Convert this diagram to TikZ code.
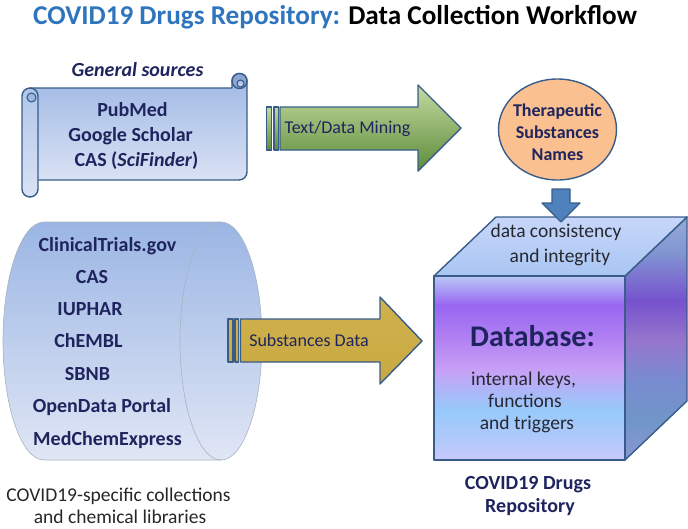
\documentclass[tikz,border=0pt]{standalone}
\usepackage{fontspec}
\setmainfont{Carlito}
\definecolor{navy}{RGB}{31,36,94}
\definecolor{darktxt}{RGB}{40,40,50}
\definecolor{edge}{RGB}{56,93,138}
\definecolor{titleblue}{RGB}{46,117,190}
\definecolor{scrolltop}{RGB}{158,184,228}
\definecolor{scrollbot}{RGB}{218,226,244}
\definecolor{curlfill}{RGB}{140,165,210}
\definecolor{cyltop}{RGB}{155,182,228}
\definecolor{cylbot}{RGB}{224,230,245}
\definecolor{cylline}{RGB}{170,178,192}
\definecolor{greentop}{RGB}{196,218,160}
\definecolor{greenbot}{RGB}{92,140,58}
\definecolor{goldtop}{RGB}{208,178,78}
\definecolor{goldmid}{RGB}{242,226,146}
\definecolor{goldbot}{RGB}{200,168,64}
\definecolor{orangefill}{RGB}{250,192,143}
\definecolor{arrowblue}{RGB}{79,129,189}
\definecolor{toptopc}{RGB}{200,214,250}
\definecolor{topbotc}{RGB}{168,198,242}
% cube front colours
\definecolor{cfa}{RGB}{200,202,250}
\definecolor{cfb}{RGB}{178,200,250}
\definecolor{cfc}{RGB}{150,202,250}
\definecolor{cfd}{RGB}{200,160,246}
\definecolor{cfe}{RGB}{178,130,242}
\definecolor{cff}{RGB}{152,102,242}
\definecolor{cfg}{RGB}{185,200,246}
% cube right colours
\definecolor{cra}{RGB}{140,150,210}
\definecolor{crb}{RGB}{112,150,200}
\definecolor{crc}{RGB}{120,140,208}
\definecolor{crd}{RGB}{150,118,205}
\definecolor{cre}{RGB}{118,82,205}
\definecolor{crf}{RGB}{130,150,210}
\definecolor{crg}{RGB}{150,170,215}
\pgfdeclareverticalshading{cubefront}{100bp}{color(0bp)=(cfa); color(25bp)=(cfa); color(30.4bp)=(cfb); color(38.6bp)=(cfc); color(49.5bp)=(cfd); color(57.6bp)=(cfe); color(67.1bp)=(cff); color(75bp)=(cfg); color(100bp)=(cfg)}
\pgfdeclareverticalshading{cuberight}{100bp}{color(0bp)=(cra); color(25bp)=(cra); color(33.2bp)=(crb); color(41.3bp)=(crc); color(49.5bp)=(crd); color(57.7bp)=(cre); color(67.9bp)=(crf); color(75bp)=(crg); color(100bp)=(crg)}
\begin{document}
\begin{tikzpicture}[x=1pt,y=-1pt,
  edgeline/.style={draw=edge, line width=1.4pt, line join=round},
  lbl/.style={anchor=base, inner sep=0pt},
  bftwenty/.style={font=\fontsize{20}{24}\selectfont\bfseries, text=navy},
  rgeighteen/.style={font=\fontsize{18}{22}\selectfont, text=navy},
  bfeighteen/.style={font=\fontsize{18}{22}\selectfont\bfseries, text=navy},
  rgtwenty/.style={font=\fontsize{19.5}{23}\selectfont, text=darktxt}]
\useasboundingbox (0,0) rectangle (688,528);

% title
\node[anchor=base west, inner sep=0pt, font=\fontsize{27.2}{32}\selectfont\bfseries] (title) at (33,24)
  {\textcolor{titleblue}{COVID19 Drugs Repository:} Data Collection Workflow};

% ---------- scroll ----------
\node[lbl, font=\fontsize{20}{24}\selectfont\bfseries\itshape, text=navy] (gen) at (137.5,76) {General sources};
\path[edgeline, top color=scrolltop, bottom color=scrollbot]
  (30,88) -- (232,88) -- (232,81) arc[start angle=180, end angle=360, radius=7.5]
  -- (247,172) arc[start angle=0, end angle=90, radius=8] -- (30,180) -- cycle;
\path[edgeline, fill=curlfill] (239.5,81) circle[radius=7.5];
\path[draw=edge, line width=1.1pt, top color=scrolltop, bottom color=scrollbot] (240.5,83.5) circle[radius=3.5];
\path[edgeline, top color=scrolltop!80!white, bottom color=scrollbot, rounded corners=8pt] (22,88) rectangle (38,197);
\path[draw=edge, line width=1.1pt, fill=scrolltop] (31.5,97.5) circle[radius=4.5];
\node[lbl, bftwenty] (pub) at (132.5,116) {PubMed};
\node[lbl, bftwenty] (gs) at (130.5,141.5) {Google Scholar};
\node[lbl, bftwenty] (cas1) at (136.5,166.5) {CAS (\textit{SciFinder})};

% ---------- green arrow ----------
\path[edgeline, top color=greentop, bottom color=greenbot]
  (280,107) -- (418,107) -- (418,85) -- (461,128) -- (418,171) -- (418,150) -- (280,150) -- cycle;
\path[edgeline, top color=greentop, bottom color=greenbot] (266.5,107) rectangle (271.5,150);
\path[edgeline, top color=greentop, bottom color=greenbot] (274,107) rectangle (278.5,150);
\node[lbl, rgeighteen] (mining) at (347.5,133.5) {Text/Data Mining};

% ---------- orange ellipse ----------
\path[edgeline, fill=orangefill] (557.5,129.5) ellipse[x radius=59, y radius=50.5];
\node[lbl, bfeighteen] (th1) at (557.5,116.5) {Therapeutic};
\node[lbl, bfeighteen] (th2) at (557.5,138.5) {Substances};
\node[lbl, bfeighteen] (th3) at (557.5,160) {Names};

% ---------- cube ----------
\path[edgeline, shade, shading=cuberight] (625,276) -- (687,217) -- (687,401) -- (625,460) -- cycle;
\path[edgeline, top color=toptopc, bottom color=topbotc] (434,276) -- (496,217) -- (687,217) -- (625,276) -- cycle;
\path[edgeline, shade, shading=cubefront] (434,276) rectangle (625,460);
\node[lbl, rgtwenty] (dc1) at (556,237.5) {data consistency};
\node[lbl, rgtwenty] (dc2) at (560,262.5) {and integrity};
\node[lbl, font=\fontsize{30}{36}\selectfont\bfseries, text=navy] (db) at (532.5,346.5) {Database:};
\node[lbl, rgtwenty] (ik) at (523.5,385) {internal keys,};
\node[lbl, rgtwenty] (fn) at (525,407) {functions};
\node[lbl, rgtwenty] (tr) at (527,429.5) {and triggers};
\node[lbl, bftwenty] (rep1) at (528,489.5) {COVID19 Drugs};
\node[lbl, bftwenty] (rep2) at (530,512.5) {Repository};

% ---------- down arrow ----------
\path[draw=edge, line width=1.2pt, line join=round, fill=arrowblue]
  (552,189) -- (570,189) -- (570,203) -- (580,203) -- (561,222) -- (542,203) -- (552,203) -- cycle;

% ---------- cylinder ----------
\path[draw=cylline, line width=0.6pt, top color=cyltop, bottom color=cylbot]
  (44,222) -- (221,222) arc[start angle=270, end angle=450, x radius=41, y radius=119]
  -- (44,460) arc[start angle=90, end angle=270, x radius=41, y radius=119] -- cycle;
\draw[cylline, line width=0.6pt] (221,222) arc[start angle=270, end angle=90, x radius=41, y radius=119];
\node[lbl, bftwenty] (l1) at (107.5,251.5) {ClinicalTrials.gov};
\node[lbl, bftwenty] (l2) at (92,283.5) {CAS};
\node[lbl, bftwenty] (l3) at (90,315.5) {IUPHAR};
\node[lbl, bftwenty] (l4) at (88.5,347.5) {ChEMBL};
\node[lbl, bftwenty] (l5) at (87.5,380) {SBNB};
\node[lbl, bftwenty] (l6) at (102,412.5) {OpenData Portal};
\node[lbl, bftwenty] (l7) at (107.5,445) {MedChemExpress};
\node[lbl, rgtwenty, text=black!85] (c1) at (118.5,501) {COVID19-specific collections};
\node[lbl, rgtwenty, text=black!85] (c2) at (120,523.5) {and chemical libraries};

% ---------- gold arrow ----------
\path[edgeline, top color=goldtop, middle color=goldmid, bottom color=goldbot]
  (240.5,319) -- (380,319) -- (380,297) -- (422,341) -- (380,384) -- (380,362) -- (240.5,362) -- cycle;
\path[edgeline, top color=goldtop, middle color=goldmid, bottom color=goldbot] (228,319) rectangle (233,362);
\path[edgeline, top color=goldtop, middle color=goldmid, bottom color=goldbot] (235,319) rectangle (238.5,362);
\node[lbl, rgeighteen] (subst) at (309,346.5) {Substances Data};
\end{tikzpicture}
\end{document}
